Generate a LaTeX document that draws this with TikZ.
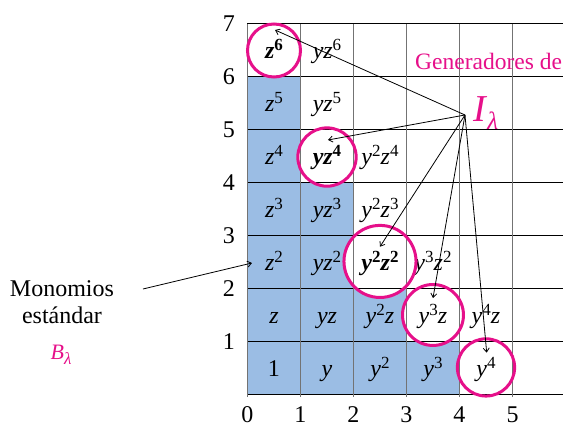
\documentclass[tikz,border=0pt]{standalone}
\usepackage{fontspec}
\setmainfont{Liberation Serif}
\usetikzlibrary{arrows.meta}
\definecolor{cellblue}{RGB}{155,189,228}
\definecolor{mag}{RGB}{230,16,138}
\definecolor{vgray}{RGB}{115,115,115}
\newcommand\ex[1]{\raisebox{0.37em}{\fontsize{17}{17}\selectfont #1}}
\newcommand\vi[1]{\textit{#1}}
\begin{document}
\begin{tikzpicture}[x=53pt,y=53pt,
  cell/.style={font=\fontsize{24}{28}\selectfont, inner sep=0pt, anchor=base},
  gen/.style={cell, font=\fontsize{24}{28}\selectfont\bfseries},
  ring/.style={draw=mag, line width=3pt},
  ax/.style={font=\fontsize{24}{28}\selectfont, inner sep=0pt},
  lbl/.style={font=\fontsize{24}{28}\selectfont, inner sep=0pt, anchor=base},
  ptr/.style={line width=0.8pt, -{Straight Barb[length=4pt,width=6pt]}},
  hline/.style={line width=1pt, black},
  vline/.style={line width=1.4pt, vgray},
]
\useasboundingbox (-247.5pt,-28pt) rectangle (315.5pt,395pt);
% standard monomials region
\fill[cellblue] (0,0) -- (4,0) -- (4,1) -- (3,1) -- (3,2) -- (2,2) -- (2,4) -- (1,4) -- (1,6) -- (0,6) -- cycle;
% non-generator cell labels
\def\dy{0.16}
\node[cell] (c00) at (0.5,0.5-\dy) {1};
\node[cell] (c01) at (0.5,1.5-\dy) {\vi{z}};
\node[cell] (c02) at (0.5,2.5-\dy) {\vi{z}\ex{2}};
\node[cell] (c03) at (0.5,3.5-\dy) {\vi{z}\ex{3}};
\node[cell] (c04) at (0.5,4.5-\dy) {\vi{z}\ex{4}};
\node[cell] (c05) at (0.5,5.5-\dy) {\vi{z}\ex{5}};
\node[cell] (c10) at (1.5,0.5-\dy) {\vi{y}};
\node[cell] (c11) at (1.5,1.5-\dy) {\vi{yz}};
\node[cell] (c12) at (1.5,2.5-\dy) {\vi{yz}\ex{2}};
\node[cell] (c13) at (1.5,3.5-\dy) {\vi{yz}\ex{3}};
\node[cell] (c15) at (1.5,5.5-\dy) {\vi{yz}\ex{5}};
\node[cell] (c16) at (1.5,6.5-\dy) {\vi{yz}\ex{6}};
\node[cell] (c20) at (2.5,0.5-\dy) {\vi{y}\ex{2}};
\node[cell] (c21) at (2.5,1.5-\dy) {\vi{y}\ex{2}\vi{z}};
\node[cell] (c23) at (2.5,3.5-\dy) {\vi{y}\ex{2}\vi{z}\ex{3}};
\node[cell] (c24) at (2.5,4.5-\dy) {\vi{y}\ex{2}\vi{z}\ex{4}};
\node[cell] (c30) at (3.5,0.5-\dy) {\vi{y}\ex{3}};
\node[cell] (c32) at (3.5,2.5-\dy) {\vi{y}\ex{3}\vi{z}\ex{2}};
\node[cell] (c41) at (4.5,1.5-\dy) {\vi{y}\ex{4}\vi{z}};
% white discs of the generators
\fill[white] (0.5,6.5) circle[radius=0.5];
\fill[white] (1.5,4.49) circle[radius=0.55];
\fill[white] (2.5,2.52) circle[radius=0.68];
\fill[white] (3.5,1.51) circle[radius=0.575];
\fill[white] (4.5,0.52) circle[radius=0.54];
% grid
\foreach \k in {0,...,7} \draw[hline] (0,\k) -- (5.953,\k);
\foreach \k in {0,...,5} \draw[vline] (\k,-0.04) -- (\k,7);
% rings
\draw[ring] (0.5,6.5) circle[radius=0.5];
\draw[ring] (1.5,4.49) circle[radius=0.55];
\draw[ring] (2.5,2.52) circle[radius=0.68];
\draw[ring] (3.5,1.51) circle[radius=0.575];
\draw[ring] (4.5,0.52) circle[radius=0.54];
% generator labels
\node[gen] (g1) at (0.5,6.5-\dy) {\vi{z}\ex{6}};
\node[gen] (g2) at (1.5,4.5-\dy) {\vi{yz}\ex{4}};
\node[gen] (g3) at (2.5,2.5-\dy) {\vi{y}\ex{2}\vi{z}\ex{2}};
\node[cell] (g4) at (3.5,1.5-\dy) {\vi{y}\ex{3}\vi{z}};
\node[cell] (g5) at (4.5,0.5-\dy) {\vi{y}\ex{4}};
% axis labels
\foreach \k in {1,...,7} \node[ax, anchor=east] (yl\k) at (-12.5pt,\k*53pt) {\k};
\foreach \k in {0,...,5} \node[ax, anchor=north] (xl\k) at (\k,-11.5pt) {\k};
% texts
\node[lbl, anchor=base west, text=mag, font=\fontsize{23.5}{28}\selectfont] (gen) at (167.5pt,325pt) {Generadores de};
\node[lbl, anchor=base west, text=mag] (il) at (225.5pt,273pt) {\fontsize{38}{40}\selectfont\textit{I}\raisebox{-0.21em}{\fontsize{25}{25}\selectfont\textit{λ}}};
\node[lbl] (mono1) at (-185.5pt,98.3pt) {Monomios};
\node[lbl] (mono2) at (-185.5pt,71.7pt) {estándar};
\node[lbl, text=mag] (bl) at (-186.5pt,35pt) {\fontsize{22}{24}\selectfont\textit{B}\raisebox{-0.2em}{\fontsize{17}{17}\selectfont\textit{λ}}};
% arrows
\coordinate (src) at (217.5pt,280pt);
\coordinate (t1) at (27.5pt,365pt);
\coordinate (t2) at (80.5pt,255pt);
\coordinate (t3) at (132.5pt,148.3pt);
\coordinate (t4) at (185.5pt,97pt);
\coordinate (t5) at (239.2pt,42.3pt);
\foreach \t in {t1,t2,t3,t4,t5} \draw[ptr] (src) -- (\t);
\coordinate (ms) at (-104.5pt,106pt);
\coordinate (mt) at (4.5pt,132pt);
\draw[ptr] (ms) -- (mt);
\end{tikzpicture}
\end{document}
